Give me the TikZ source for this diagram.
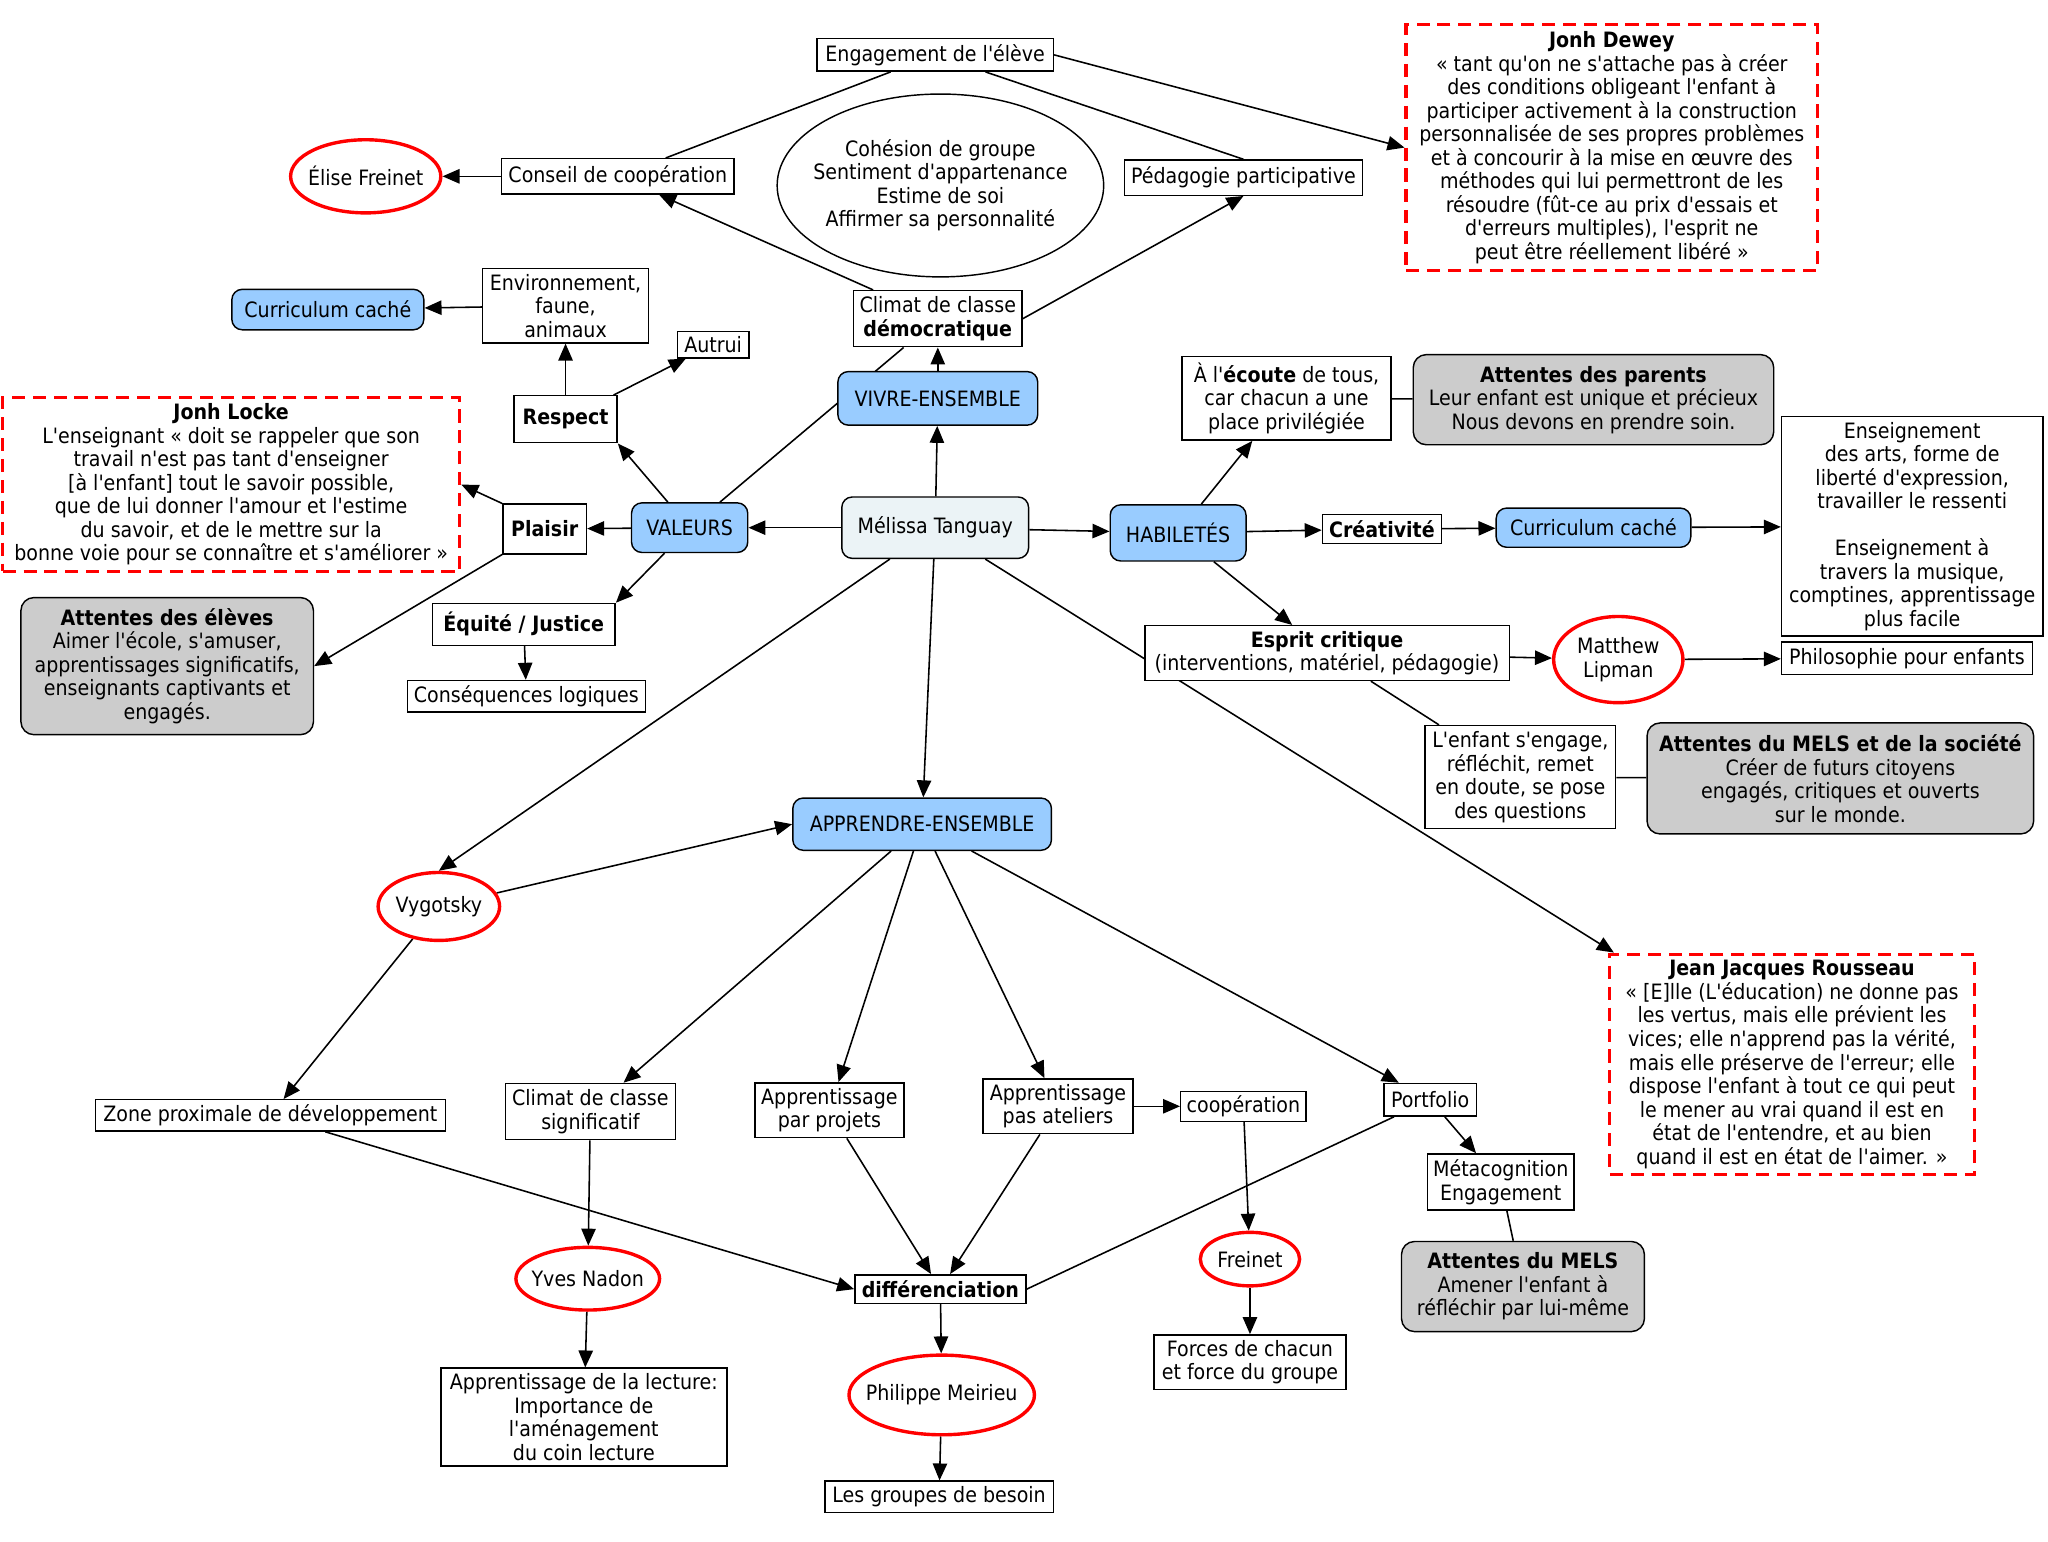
\documentclass[tikz,border=0pt]{standalone}
\usepackage{fontspec}
\setmainfont{DejaVu Sans Condensed}[Ligatures=TeXOff]
\usetikzlibrary{shapes.geometric,arrows.meta}
\pgfdeclarelayer{background}
\pgfsetlayers{background,main}
\definecolor{skyfill}{RGB}{153,204,255}
\definecolor{greyfill}{RGB}{204,204,204}
\definecolor{palefill}{RGB}{235,243,246}

\begin{document}
\begin{tikzpicture}[x=1pt, y=-1pt,
font=\fontsize{16.2}{18}\selectfont,
sz/.style 2 args = {minimum width=#1pt, minimum height=#2pt},
box/.style = {% plain concept
    draw, line width=1.1pt, fill=white, inner sep=1pt, align=center,
            },
bluebox/.style = {box, fill=skyfill, rounded corners=8pt},
greybox/.style = {box, fill=greyfill, rounded corners=10pt},
oval/.style = {ellipse, draw, line width=1.1pt, fill=white,
    inner xsep=-9pt, inner ysep=0pt, align=center},
person/.style = {% theorists
    oval, draw=red, line width=2.6pt,
            },
quote/.style = {% citations
    draw=red, line width=2.4pt, dash pattern=on 10pt off 6pt,
    fill=white, inner sep=1pt, align=center,
            },
link/.style = {line width=1.2pt},
arr/.style = {link, -{Triangle[length=13pt,width=11pt]}},
                        ]

\useasboundingbox (0,0) rectangle (1568,1180);

% top
\node[box, sz={181}{25}] (eng) at (716,42) {Engagement de l'élève};
\node[oval, sz={250}{140}] (cohesion) at (720,142)
  {Cohésion de groupe\\Sentiment d'appartenance\\Estime de soi\\Affirmer sa personnalité};
\node[box, sz={178}{27}] (conseil) at (473,135) {Conseil de coopération};
\node[person, sz={115}{56}] (elise) at (280,135) {Élise Freinet};
\node[box, sz={182}{27}] (pedago) at (952,136) {Pédagogie participative};
\node[quote, sz={315}{188}] (dewey) at (1234,113)
  {\textbf{Jonh Dewey}\\« tant qu'on ne s'attache pas à créer\\des conditions obligeant l'enfant à\\participer activement à la construction\\personnalisée de ses propres problèmes\\et à concourir à la mise en œuvre des\\méthodes qui lui permettront de les\\résoudre (fût-ce au prix d'essais et\\d'erreurs multiples), l'esprit ne\\peut être réellement libéré »};
\node[box, sz={129}{43}] (climat) at (718,244) {Climat de classe\\\textbf{démocratique}};
\node[bluebox, sz={153}{41}] (vivre) at (718,305) {VIVRE-ENSEMBLE};

% valeurs
\node[bluebox, sz={147}{31}] (cachevaleurs) at (251,237) {Curriculum caché};
\node[box, sz={127}{57}] (env) at (433,234) {Environnement,\\faune,\\animaux};
\node[box, sz={55}{20}] (autrui) at (546,264) {Autrui};
\node[box, sz={79}{36}] (respect) at (433,321) {\textbf{Respect}};
\node[quote, sz={350}{133}] (locke) at (177,371)
  {\textbf{Jonh Locke}\\L'enseignant « doit se rappeler que son\\travail n'est pas tant d'enseigner\\{[}à l'enfant{]} tout le savoir possible,\\que de lui donner l'amour et l'estime\\du savoir, et de le mettre sur la\\bonne voie pour se connaître et s'améliorer »};
\node[box, sz={64}{38}] (plaisir) at (417,405) {\textbf{Plaisir}};
\node[bluebox, sz={89}{38}] (valeurs) at (528,404) {VALEURS};
\node[box, sz={140}{32}] (equite) at (401,478) {\textbf{Équité / Justice}};
\node[box, sz={182}{24}] (conseq) at (403,533) {Conséquences logiques};
\node[greybox, sz={224}{105}] (eleves) at (128,510)
  {\textbf{Attentes des élèves}\\Aimer l'école, s'amuser,\\apprentissages significatifs,\\enseignants captivants et\\engagés.};

% centre
\node[box, fill=palefill, rounded corners=8pt, sz={143}{47}] (melissa) at (716,404) {Mélissa Tanguay};

% habiletes
\node[bluebox, sz={104}{43}] (habiletes) at (902,408) {HABILETÉS};
\node[box, sz={160}{64}] (ecoute) at (985,305) {À l'\textbf{écoute} de tous,\\car chacun a une\\place privilégiée};
\node[greybox, sz={276}{69}] (parents) at (1220,306)
  {\textbf{Attentes des parents}\\Leur enfant est unique et précieux\\Nous devons en prendre soin.};
\node[box, sz={91}{22}] (creativite) at (1058,405) {\textbf{Créativité}};
\node[bluebox, sz={149}{30}] (cachehabiletes) at (1220,404) {Curriculum caché};
\node[box, sz={200}{168}] (arts) at (1464,403)
  {Enseignement\\des arts, forme de\\liberté d'expression,\\travailler le ressenti\\[18pt]Enseignement à\\travers la musique,\\comptines, apprentissage\\plus facile};
\node[box, sz={279}{42}] (esprit) at (1016,500) {\textbf{Esprit critique}\\(interventions, matériel, pédagogie)};
\node[person, sz={99}{66}] (lipman) at (1239,505) {Matthew\\Lipman};
\node[box, sz={192}{25}] (philo) at (1460,504) {Philosophie pour enfants};
\node[box, sz={146}{79}] (enfant) at (1164,595) {L'enfant s'engage,\\réfléchit, remet\\en doute, se pose\\des questions};
\node[greybox, sz={296}{85}] (melssociete) at (1409,596)
  {\textbf{Attentes du MELS et de la société}\\Créer de futurs citoyens\\engagés, critiques et ouverts\\sur le monde.};
\node[quote, sz={279}{169}] (rousseau) at (1372,815)
  {\textbf{Jean Jacques Rousseau}\\« [E]lle (L'éducation) ne donne pas\\les vertus, mais elle prévient les\\vices; elle n'apprend pas la vérité,\\mais elle préserve de l'erreur; elle\\dispose l'enfant à tout ce qui peut\\le mener au vrai quand il est en\\état de l'entendre, et au bien\\quand il est en état de l'aimer. »};

% apprendre
\node[bluebox, sz={198}{40}] (apprendre) at (706,631) {APPRENDRE-ENSEMBLE};
\node[person, sz={93}{52}] (vygotsky) at (336,694) {Vygotsky};
\node[box, sz={268}{24}] (zone) at (207,854) {Zone proximale de développement};
\node[box, sz={130}{43}] (climatsignif) at (452,851) {Climat de classe\\significatif};
\node[box, sz={114}{42}] (projets) at (635,850) {Apprentissage\\par projets};
\node[box, sz={115}{42}] (ateliers) at (810,847) {Apprentissage\\pas ateliers};
\node[box, sz={96}{23}] (coop) at (952,847) {coopération};
\node[box, sz={71}{25}] (portfolio) at (1095,842) {Portfolio};
\node[box, sz={112}{43}] (meta) at (1149,905) {Métacognition\\Engagement};
\node[greybox, sz={186}{69}] (mels) at (1166,985)
  {\textbf{Attentes du MELS}\\Amener l'enfant à\\réfléchir par lui-même};
\node[box, sz={131}{22}] (diff) at (720,987) {\textbf{différenciation}};
\node[person, sz={110}{48}] (nadon) at (450,979) {Yves Nadon};
\node[box, sz={219}{75}] (lecture) at (447,1085)
  {Apprentissage de la lecture:\\Importance de\\l'aménagement\\du coin lecture};
\node[person, sz={142}{61}] (meirieu) at (721,1068) {Philippe Meirieu};
\node[box, sz={175}{24}] (groupes) at (719,1146) {Les groupes de besoin};
\node[person, sz={76}{41}] (freinet) at (957,964) {Freinet};
\node[box, sz={147}{42}] (forces) at (957,1043) {Forces de chacun\\et force du groupe};

\begin{pgfonlayer}{background}
  \draw[link] (eng) -- (conseil);
  \draw[link] (eng) -- (pedago.north);
  \draw[arr] (eng.east) -- (dewey.west);
  \draw[arr] (conseil) -- (elise);
  \draw[arr] (climat) -- (conseil);
  \draw[arr] (climat.east) -- (pedago.south);
  \draw[arr] (vivre) -- (climat);
  \draw[link] (climat) -- (valeurs);

  \draw[arr] (melissa) -- (vivre);
  \draw[arr] (melissa) -- (valeurs);
  \draw[arr] (melissa) -- (habiletes);
  \draw[arr] (melissa) -- (vygotsky.north);
  \draw[arr] (melissa) -- (apprendre);
  \draw[arr] (melissa) -- (rousseau);

  \draw[arr] (valeurs) -- (respect.south east);
  \draw[arr] (valeurs) -- (plaisir);
  \draw[arr] (valeurs) -- (equite.north east);
  \draw[arr] (respect) -- (env);
  \draw[arr] (respect) -- (autrui);
  \draw[arr] (env) -- (cachevaleurs);
  \draw[arr] (plaisir.north west) -- (locke.east);
  \draw[arr] (plaisir.south west) -- (eleves.east);
  \draw[arr] (equite) -- (conseq);

  \draw[arr] (habiletes) -- (ecoute);
  \draw[link] (ecoute) -- (parents);
  \draw[arr] (habiletes) -- (creativite);
  \draw[arr] (creativite) -- (cachehabiletes);
  \draw[arr] (cachehabiletes) -- (arts);
  \draw[arr] (habiletes) -- (esprit);
  \draw[arr] (esprit) -- (lipman);
  \draw[arr] (lipman) -- (philo);
  \draw[link] (esprit) -- (enfant);
  \draw[link] (enfant) -- (melssociete);

  \draw[arr] (vygotsky) -- (apprendre.west);
  \draw[arr] (vygotsky) -- (zone);
  \draw[arr] (apprendre) -- (climatsignif);
  \draw[arr] (apprendre) -- (projets);
  \draw[arr] (apprendre) -- (ateliers);
  \draw[arr] (apprendre) -- (portfolio);
  \draw[arr] (ateliers) -- (coop);
  \draw[arr] (coop) -- (freinet);
  \draw[arr] (freinet) -- (forces);
  \draw[arr] (portfolio) -- (meta);
  \draw[link] (meta) -- (mels);
  \draw[link] (portfolio) -- (diff.east);
  \draw[arr] (zone) -- (diff.west);
  \draw[arr] (climatsignif) -- (nadon);
  \draw[arr] (nadon) -- (lecture);
  \draw[arr] (projets) -- (diff);
  \draw[arr] (ateliers) -- (diff);
  \draw[arr] (diff) -- (meirieu);
  \draw[arr] (meirieu) -- (groupes);
\end{pgfonlayer}

\end{tikzpicture}
\end{document}
